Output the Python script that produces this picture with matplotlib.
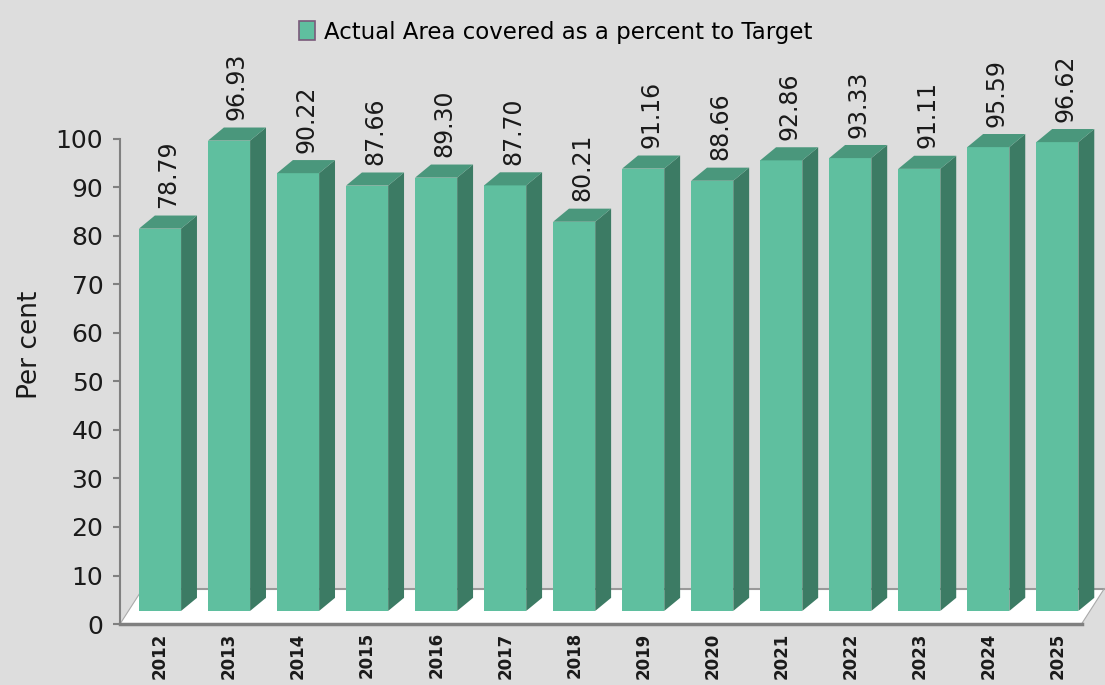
import numpy as np
import matplotlib.pyplot as plt
from matplotlib.patches import Polygon, Patch

# datos del grafico
years = ['2012', '2013', '2014', '2015', '2016', '2017', '2018',
         '2019', '2020', '2021', '2022', '2023', '2024', '2025']
valores = [78.79, 96.93, 90.22, 87.66, 89.30, 87.70, 80.21,
           91.16, 88.66, 92.86, 93.33, 91.11, 95.59, 96.62]
etiquetas = ['%.2f' % v for v in valores]
yticks = list(range(0, 101, 10))

# colores
fondo = '#dddddd'
c_frente = '#5fbf9f'
c_lado = '#3c7b64'
c_arriba = '#4a977c'
gris = '#808080'

# efecto 3d
ancho = 0.61
dx = 0.23      # profundidad en x
dy = 2.7       # profundidad en y
base = 2.7     # las barras se apoyan sobre el piso

fig = plt.figure(figsize=(11.05, 6.85), dpi=100)
fig.patch.set_facecolor(fondo)
ax = fig.add_axes([0.1086, 0.089, 0.887, 0.8146])
ax.set_facecolor(fondo)

x = np.arange(len(years))
x0, x1 = -0.58, len(years) - 0.65
ax.set_xlim(x0, x1 + 0.27)
ax.set_ylim(0, 115)

# piso blanco
prof = 7.3
piso = Polygon([(x0, 0), (x1, 0), (x1 + 0.33, prof), (x0 + 0.33, prof)],
               closed=True, facecolor='white', edgecolor='none', zorder=1, clip_on=False)
ax.add_patch(piso)
ax.plot([x0 + 0.33, x1 + 0.33], [prof, prof], color='#999999', lw=1.5, zorder=1.5, clip_on=False)
ax.plot([x0, x0 + 0.33], [0, prof], color='#aaaaaa', lw=0.8, zorder=1.5, clip_on=False)
ax.plot([x1, x1 + 0.33], [0, prof], color='#aaaaaa', lw=0.8, zorder=1.5, clip_on=False)

# caras frontales
ax.bar(x, valores, width=ancho, bottom=base, color=c_frente, zorder=3)

# caras laterales y superiores
for xi, v in zip(x, valores):
    der = xi + ancho / 2
    izq = xi - ancho / 2
    top = v + base
    lado = Polygon([(der, base), (der + dx, base + dy), (der + dx, top + dy), (der, top)],
                   closed=True, facecolor=c_lado, edgecolor='none', zorder=3)
    arriba = Polygon([(izq, top), (der, top), (der + dx, top + dy), (izq + dx, top + dy)],
                     closed=True, facecolor=c_arriba, edgecolor='none', zorder=3)
    ax.add_patch(lado)
    ax.add_patch(arriba)

# etiquetas de valor
for xi, v, t in zip(x, valores, etiquetas):
    ax.text(xi + dx / 2, v + base + dy + 1.5, t, rotation=90, ha='center', va='bottom',
            fontsize=17, color='#1a1a1a', zorder=4)

# ejes
for s in ['top', 'right']:
    ax.spines[s].set_visible(False)
ax.spines['left'].set_bounds(0, 100)
ax.spines['left'].set_color(gris)
ax.spines['left'].set_linewidth(1.5)
ax.spines['bottom'].set_bounds(x0, x1)
ax.spines['bottom'].set_color(gris)
ax.spines['bottom'].set_linewidth(2.5)
ax.spines['bottom'].set_zorder(2)

ax.set_yticks(yticks)
ax.set_yticklabels([str(t) for t in yticks], fontsize=18, color='#1a1a1a')
ax.tick_params(axis='y', length=5, width=1.5, color=gris, pad=7)
ax.set_xticks(x)
ax.set_xticklabels(years, rotation=90, fontsize=12, fontweight='bold', color='#1a1a1a')
ax.tick_params(axis='x', length=0, pad=6)
ax.set_ylabel('Per cent', fontsize=19, color='#1a1a1a', labelpad=9)

# leyenda
mano = Patch(facecolor=c_frente, edgecolor='#7a5a7a', linewidth=1.2,
             label='Actual Area covered as a percent to Target')
fig.legend(handles=[mano], loc='upper center', bbox_to_anchor=(0.503, 1.0),
           frameon=False, fontsize=16.5, handlelength=0.7, handleheight=0.9,
           handletextpad=0.4)

plt.savefig('out.png', dpi=100, facecolor=fondo)
